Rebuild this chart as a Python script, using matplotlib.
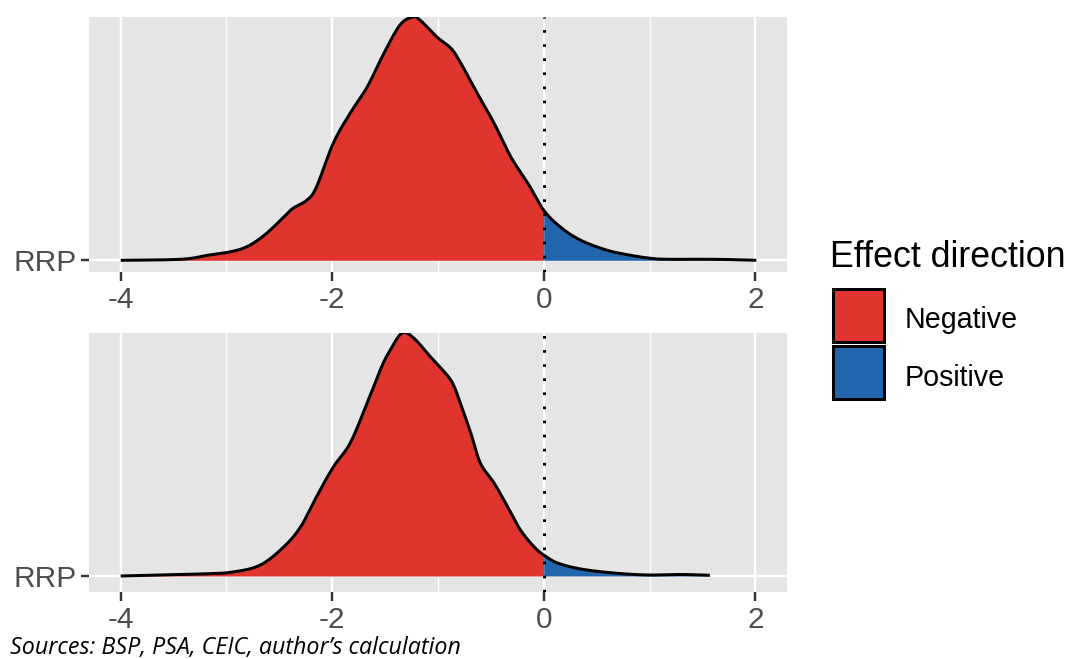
import matplotlib
matplotlib.use("Agg")
import matplotlib.pyplot as plt
from matplotlib.patches import Rectangle
import numpy as np

# ---- data (heights relative to the peak = 243) ----
top_x = [-4.00, -3.43, -3.18, -2.94, -2.78, -2.62, -2.46, -2.37, -2.24, -2.15,
         -1.99, -1.83, -1.67, -1.51, -1.36, -1.24, -1.17, -1.01, -0.88, -0.79,
         -0.63, -0.47, -0.31, -0.15, 0.00, 0.16, 0.35, 0.60, 0.82, 1.01,
         1.17, 1.61, 2.01]
top_h = [0, 1, 5, 9, 15, 27, 43, 52, 60, 73,
         117, 147, 173, 207, 235, 243, 240, 223, 212, 198,
         167, 137, 103, 77, 50, 33, 20, 10, 5, 2,
         1, 1, 0]

bot_x = [-4.00, -3.25, -2.94, -2.68, -2.46, -2.30, -2.15, -1.99, -1.83, -1.67,
         -1.53, -1.45, -1.34, -1.23, -1.07, -0.88, -0.79, -0.69, -0.60, -0.47,
         -0.34, -0.22, -0.09, 0.00, 0.13, 0.35, 0.66, 0.98, 1.30, 1.57]
bot_h = [0, 2, 4, 11, 29, 49, 79, 109, 133, 173,
         210, 226, 243, 238, 219, 196, 173, 143, 113, 93,
         69, 46, 29, 21, 13, 7, 3, 1, 1.5, 0.7]

category = "RRP"
x_ticks = [-4, -2, 0, 2]
x_minor = [-3, -1, 1]
legend_title = "Effect direction"
legend_labels = ["Negative", "Positive"]
caption = "Sources: BSP, PSA, CEIC, author\u2019s calculation"

RED = "#E0342F"
BLUE = "#2166AC"
PANEL = "#E5E5E5"

W, H = 1072, 659
plt.rcParams["font.family"] = ["Liberation Sans", "DejaVu Sans"]
fig = plt.figure(figsize=(W / 100, H / 100), dpi=100)


def px(v):
    return v * 72 / 100.0  # pixels -> points


def smooth(x, y, n=20):
    """Catmull-Rom rendering through the read points (drawing only)."""
    x = np.asarray(x, float)
    y = np.asarray(y, float)
    P = np.column_stack([x, y])
    P = np.vstack([P[0], P, P[-1]])
    out = []
    t = np.linspace(0, 1, n, endpoint=False)
    for i in range(1, len(P) - 2):
        p0, p1, p2, p3 = P[i - 1], P[i], P[i + 1], P[i + 2]
        t2, t3 = t * t, t * t * t
        seg = 0.5 * ((2 * p1)[None, :] + np.outer(t, -p0 + p2)
                     + np.outer(t2, 2 * p0 - 5 * p1 + 4 * p2 - p3)
                     + np.outer(t3, -p0 + 3 * p1 - 3 * p2 + p3))
        out.append(seg)
    out.append(P[-2][None, :])
    S = np.vstack(out)
    S[:, 1] = np.clip(S[:, 1], 0, None)
    return S[:, 0], S[:, 1]


panels = [
    dict(x=top_x, h=top_h, box=(89, 17, 787, 272), below=11.7),
    dict(x=bot_x, h=bot_h, box=(89, 333, 787, 592), below=16.0),
]

for p in panels:
    l, t, r, b = p["box"]
    ax = fig.add_axes([l / W, 1 - b / H, (r - l) / W, (b - t) / H])
    peak = max(p["h"])
    sx, sy = smooth(p["x"], np.array(p["h"], float) / peak)
    ax.set_facecolor(PANEL)
    ax.set_xlim(-4.3, 2.3)
    ax.set_ylim(-p["below"] / peak, 1.0)
    # grid
    for xv in x_minor:
        ax.axvline(xv, color="white", lw=px(1.4), zorder=0.5)
    for xv in x_ticks:
        ax.axvline(xv, color="white", lw=px(2.4), zorder=0.6)
    ax.axhline(0, color="white", lw=px(2.4), zorder=0.6)
    # fills split at zero
    ax.fill_between(sx, 0, sy, where=sx <= 0, color=RED, lw=0, zorder=2)
    ax.fill_between(sx, 0, sy, where=sx >= 0, color=BLUE, lw=0, zorder=2)
    ax.plot(sx, sy, color="black", lw=px(3.0), zorder=3,
            solid_capstyle="butt", solid_joinstyle="round")
    ax.axvline(0, color="black", lw=px(3.0), linestyle=(0, (0.9, 3.8)),
               dash_capstyle="butt", zorder=4)
    for s in ax.spines.values():
        s.set_visible(False)
    ax.set_xticks(x_ticks)
    ax.set_xticklabels([str(v) if v >= 0 else "-" + str(abs(v)) for v in x_ticks])
    ax.set_yticks([0])
    ax.set_yticklabels([category])
    ax.tick_params(axis="both", length=px(8.5), width=px(2.4), color="#333333",
                   labelcolor="#4D4D4D", labelsize=px(29.8))
    ax.tick_params(axis="x", pad=px(5))
    ax.tick_params(axis="y", pad=px(4))

# legend (drawn in figure pixel coordinates)
fig.text(830 / W, 1 - 266.7 / H, legend_title, fontsize=px(35.8),
         color="black", ha="left", va="baseline")
key_tops = [289, 345.5]
label_base = [328.5, 385.5]
for col, lab, kt, lb in zip([RED, BLUE], legend_labels, key_tops, label_base):
    fig.add_artist(Rectangle((832.5 / W, 1 - (kt + 53) / H), 51 / W, 53 / H,
                             transform=fig.transFigure, facecolor=col,
                             edgecolor="black", lw=px(3)))
    fig.text(905 / W, 1 - lb / H, lab, fontsize=px(28.6), color="black",
             ha="left", va="baseline")

fig.text(10 / W, 1 - 654 / H, caption, fontsize=px(23.3), style="italic",
         family=["Open Sans", "Noto Sans", "DejaVu Sans"], color="black",
         ha="left", va="baseline")

fig.savefig("out.png", dpi=100)
